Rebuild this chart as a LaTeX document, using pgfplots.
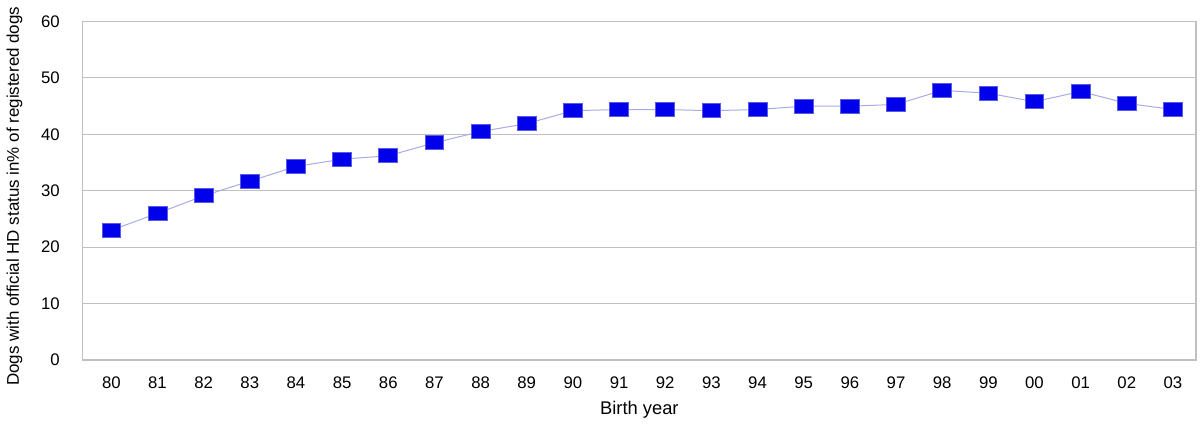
\documentclass[border=0pt]{standalone}
\usepackage{pgfplots}
\pgfplotsset{compat=1.18}
\usepackage{fontspec}
\setmainfont{Liberation Sans}
\definecolor{gridgray}{RGB}{192,192,192}
\definecolor{linelav}{RGB}{170,170,225}
\definecolor{markblue}{RGB}{0,0,235}
\definecolor{markedge}{RGB}{90,90,230}

\pgfplotstableread{
x  y
0  23.0
1  26.0
2  29.1
3  31.7
4  34.3
5  35.6
6  36.2
7  38.5
8  40.5
9  41.9
10 44.2
11 44.4
12 44.4
13 44.2
14 44.4
15 45.0
16 45.0
17 45.3
18 47.8
19 47.3
20 45.8
21 47.6
22 45.5
23 44.4
}\hdstatus

\begin{document}
\begin{tikzpicture}
\begin{axis}[
    name=main,
    scale only axis,
    width=558.5pt,
    height=169.75pt,
    xmin=-0.62, xmax=23.5,
    ymin=0, ymax=60,
    xtick={0,...,23},
    xticklabels={80,81,82,83,84,85,86,87,88,89,90,91,92,93,94,95,96,97,98,99,00,01,02,03},
    ytick={0,10,...,60},
    major tick length=0pt,
    ymajorgrids,
    grid style={gridgray, line width=0.5pt},
    axis line style={gridgray, line width=0.6pt},
    tick label style={font=\fontsize{8.4}{10}\selectfont},
    xticklabel style={yshift=-5pt},
    yticklabel style={xshift=-8pt},
    /pgf/number format/assume math mode=true,
    xlabel={Birth year},
    ylabel={Dogs with official HD status in\% of registered dogs},
    xlabel style={font=\fontsize{9.2}{11}\selectfont, yshift=0.5pt},
    ylabel style={font=\fontsize{8.5}{10}\selectfont, yshift=2.5pt, xshift=-2.75pt},
]
\addplot[linelav, line width=0.5pt, mark=square*, mark size=3.5pt,
    mark options={xscale=1.35, fill=markblue, draw=markedge, line width=0.4pt}]
    table[x=x, y=y] {\hdstatus};
\end{axis}
% margins as in the reference
\path (main.north east) ++(2pt,8.75pt) coordinate (tr);
\path (main.south west) ++(-39.5pt,-30.5pt) coordinate (bl);
\path (tr) (bl);
\end{tikzpicture}
\end{document}
